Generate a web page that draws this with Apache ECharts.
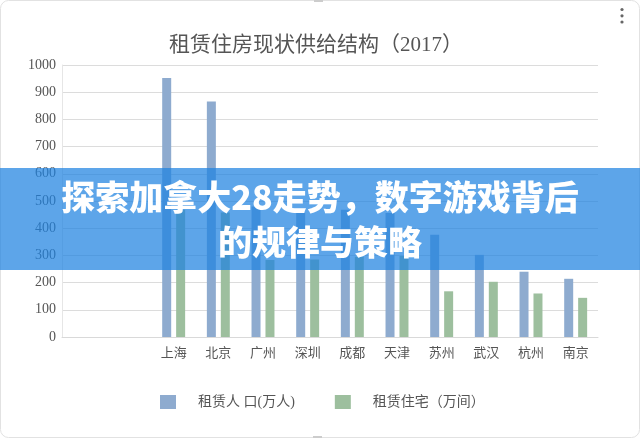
<!DOCTYPE html>
<html>
<head>
<meta charset="utf-8">
<script src="https://cdn.jsdelivr.net/npm/echarts@6/dist/echarts.min.js"></script>
<style>
html,body{margin:0;padding:0;background:#fff;}
#c{width:640px;height:438px;}
</style>
</head>
<body>
<div id="c"></div>
<script>
var categories = ['', '', '上海', '北京', '广州', '深圳', '成都', '天津', '苏州', '武汉', '杭州', '南京'];
var rentPopulation = [null, null, 952, 866, 480, 458, 468, 456, 376, 302, 240, 214];
var rentHousing = [null, null, 468, 458, 283, 285, 295, 298, 168, 203, 160, 144];
var yTicks = [0, 1000, 100];
var seriesNames = ['租赁人 口(万人)', '租赁住宅（万间）'];
var titleText = '租赁住房现状供给结构（2017）';
var bannerLines = ['探索加拿大28走势，数字游戏背后', '的规律与策略'];

var serif = "'Liberation Serif', 'Noto Sans CJK SC', serif";
var chart = echarts.init(document.getElementById('c'));
chart.setOption({
  animation: false,
  backgroundColor: '#fff',
  title: {
    text: titleText,
    left: 311, top: 30, textAlign: 'center',
    textStyle: {fontFamily: serif, fontSize: 21, fontWeight: 'normal', color: '#555'}
  },
  legend: {
    left: 155, top: 390, itemWidth: 16, itemHeight: 14, itemGap: 40,
    icon: 'rect',
    textStyle: {fontFamily: serif, fontSize: 14, color: '#555', padding: [0, 0, 0, 17]},
    data: seriesNames
  },
  grid: {left: 62, right: 42, top: 65, bottom: 101, containLabel: false},
  xAxis: {
    type: 'category',
    data: categories,
    axisLine: {show: true, lineStyle: {color: '#d9d9d9'}},
    axisTick: {show: false},
    axisLabel: {fontFamily: serif, fontSize: 13, color: '#555', margin: 10}
  },
  yAxis: {
    type: 'value',
    min: yTicks[0], max: yTicks[1], interval: yTicks[2],
    axisLine: {show: true, lineStyle: {color: '#e6e6e6'}},
    axisTick: {show: false},
    axisLabel: {fontFamily: serif, fontSize: 14, color: '#555', margin: 6,
                formatter: function (v) { return String(v); }},
    splitLine: {lineStyle: {color: '#dcdcdc'}}
  },
  series: [
    {name: seriesNames[0], type: 'bar', data: rentPopulation, barWidth: 9, barGap: '55%',
     itemStyle: {color: '#8eabcf'}},
    {name: seriesNames[1], type: 'bar', data: rentHousing, barWidth: 9,
     itemStyle: {color: '#9dbf9e'}}
  ],
  graphic: [
    {type: 'rect', z: 0, silent: true, shape: {x: 0.5, y: 0.5, width: 639, height: 437, r: 8},
     style: {fill: 'none', stroke: '#e2e2e2', lineWidth: 1}},
    {type: 'circle', z: 100, shape: {cx: 622, cy: 9.5, r: 1.6}, style: {fill: '#666'}},
    {type: 'circle', z: 100, shape: {cx: 622, cy: 15.8, r: 1.6}, style: {fill: '#666'}},
    {type: 'circle', z: 100, shape: {cx: 622, cy: 22, r: 1.6}, style: {fill: '#666'}},
    {type: 'rect', z: 100, shape: {x: 314, y: 0, width: 9, height: 2}, style: {fill: '#ccc'}},
    {type: 'rect', z: 100, shape: {x: 313, y: 436, width: 9, height: 2}, style: {fill: '#ccc'}},
    {type: 'rect', z: 100, silent: true, shape: {x: 0, y: 168, width: 640, height: 102},
     style: {fill: 'rgba(30,130,225,0.72)'}},
    {type: 'text', z: 101, silent: true, left: 'center', top: 180,
     style: {text: bannerLines[0], fill: '#fff', fontSize: 34, fontWeight: 900,
             fontFamily: "'Noto Sans CJK SC', sans-serif"}},
    {type: 'text', z: 101, silent: true, left: 'center', top: 225,
     style: {text: bannerLines[1], fill: '#fff', fontSize: 34, fontWeight: 900,
             fontFamily: "'Noto Sans CJK SC', sans-serif"}}
  ]
});
</script>
</body>
</html>
